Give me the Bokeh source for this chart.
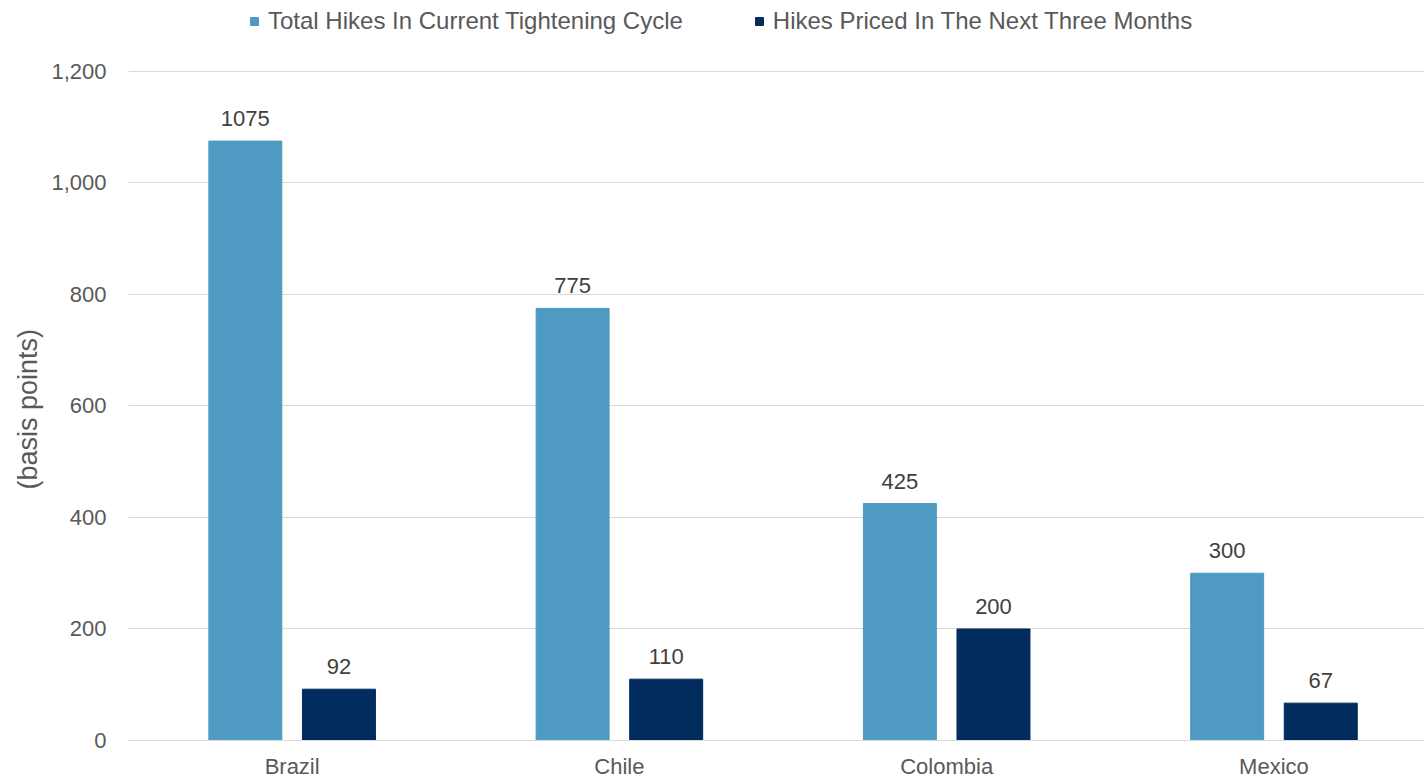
from bokeh.plotting import figure
from bokeh.models import ColumnDataSource, LabelSet, Legend, LegendItem, FixedTicker, NumeralTickFormatter, Range1d, Title
from bokeh.core.properties import value
from bokeh.embed import file_html
from bokeh.resources import INLINE

countries = ["Brazil", "Chile", "Colombia", "Mexico"]
total_hikes = [1075, 775, 425, 300]
priced_hikes = [92, 110, 200, 67]
series_names = ["Total Hikes In Current Tightening Cycle", "Hikes Priced In The Next Three Months"]
y_ticks = [0, 200, 400, 600, 800, 1000, 1200]

LIGHT = "#4F9AC2"
DARK = "#012C5D"
FONT = "Liberation Sans"
TXT = "#595959"

centers = [i + 0.5 for i in range(len(countries))]
off = 0.143
bw = 0.223

src1 = ColumnDataSource(dict(x=[c - off for c in centers], top=total_hikes, lab=[str(v) for v in total_hikes]))
src2 = ColumnDataSource(dict(x=[c + off for c in centers], top=priced_hikes, lab=[str(v) for v in priced_hikes]))

# frame spans the whole height above the x axis; the 1,200 gridline lands at y=71
y_top = 1200 * 741 / 670

p = figure(width=1424, height=781, output_backend="svg", toolbar_location=None,
           x_range=Range1d(0, 3.96), y_range=Range1d(0, y_top),
           min_border_left=128, min_border_right=0, min_border_top=0, min_border_bottom=40)
p.outline_line_color = None
p.background_fill_color = "white"
p.border_fill_color = "white"

r1 = p.vbar(x="x", top="top", width=bw, source=src1, fill_color=LIGHT, line_color=LIGHT)
r2 = p.vbar(x="x", top="top", width=bw, source=src2, fill_color=DARK, line_color=DARK)

for s in (src1, src2):
    p.add_layout(LabelSet(x="x", y="top", text="lab", source=s, text_align="center", text_baseline="bottom",
                          y_offset=15, text_font=value(FONT), text_font_size=value("22px"), text_color="#404040"))

p.xgrid.grid_line_color = None
p.ygrid.grid_line_color = "#D9D9D9"
p.ygrid.grid_line_width = 1
p.ygrid.ticker = FixedTicker(ticks=y_ticks)

p.yaxis.ticker = FixedTicker(ticks=y_ticks)
p.yaxis.formatter = NumeralTickFormatter(format="0,0")
p.yaxis.axis_line_color = None
p.yaxis.major_tick_line_color = None
p.yaxis.minor_tick_line_color = None
p.yaxis.major_label_text_font = FONT
p.yaxis.major_label_text_font_size = "22px"
p.yaxis.major_label_text_color = TXT
p.yaxis.major_label_standoff = 16

p.add_layout(Title(text="(basis points)", align="left", offset=251, text_font=FONT, text_font_size="27px",
                   text_font_style="normal", text_color=TXT, standoff=12), "left")

p.xaxis.ticker = FixedTicker(ticks=centers)
p.xaxis.major_label_overrides = {c: n for c, n in zip(centers, countries)}
p.xaxis.axis_line_color = "#D9D9D9"
p.xaxis.major_tick_line_color = None
p.xaxis.minor_tick_line_color = None
p.xaxis.major_label_text_font = FONT
p.xaxis.major_label_text_font_size = "22px"
p.xaxis.major_label_text_color = TXT
p.xaxis.major_label_standoff = 7

legend = Legend(items=[LegendItem(label=series_names[0], renderers=[r1]),
                       LegendItem(label=series_names[1], renderers=[r2])],
                orientation="horizontal", location=(121, 705), padding=0, margin=0,
                spacing=71, glyph_width=10, glyph_height=10, label_standoff=9,
                label_text_font=FONT, label_text_font_size="24px", label_text_color=TXT,
                border_line_color=None, background_fill_alpha=0)
p.add_layout(legend, "center")

open("out.html", "w").write(file_html(p, INLINE))
